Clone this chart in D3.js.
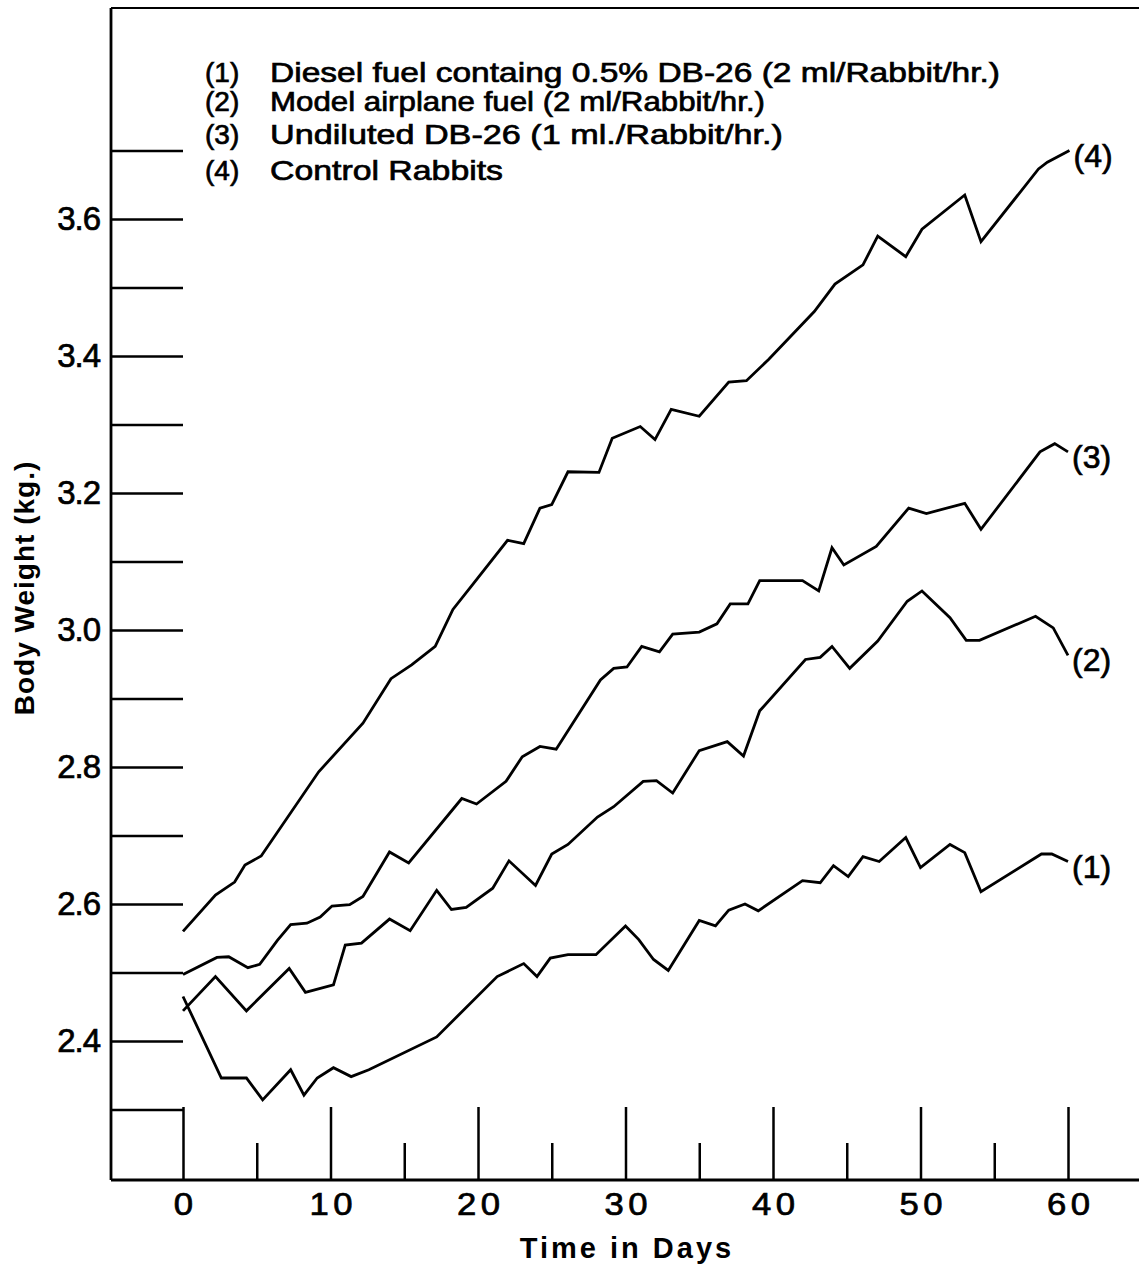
<!DOCTYPE html>
<html>
<head>
<meta charset="utf-8">
<script src="https://cdn.jsdelivr.net/npm/d3@7"></script>
<style>
  html, body { margin: 0; padding: 0; background: #fff; }
  svg { display: block; }
  text { font-family: "Liberation Sans", Arial, sans-serif; fill: #000; }
</style>
</head>
<body>
<svg id="chart" width="1139" height="1264"></svg>
<script>
// ---- Data ----
const days1 = [0, 2.6, 4.3, 5.4, 7.3, 8.2, 9.1, 10.2, 11.4, 12.6, 17.2, 21.3, 23.1, 24.0, 24.9, 26.1, 28.0, 30.0, 30.9, 31.9, 32.9, 35.0, 36.1, 37.0, 38.1, 39.0, 42.0, 43.2, 44.1, 45.1, 46.1, 47.2, 49.0, 50.0, 52.0, 53.0, 54.1, 58.2, 58.9, 60.0];
const weight1 = [2.465, 2.346, 2.346, 2.314, 2.358, 2.321, 2.346, 2.361, 2.348, 2.358, 2.406, 2.494, 2.513, 2.494, 2.521, 2.526, 2.526, 2.568, 2.548, 2.519, 2.503, 2.576, 2.568, 2.591, 2.600, 2.590, 2.634, 2.631, 2.656, 2.640, 2.669, 2.662, 2.697, 2.653, 2.687, 2.675, 2.618, 2.673, 2.673, 2.662];

const days2 = [0, 2.2, 4.3, 7.2, 8.3, 10.2, 11.0, 12.1, 14.0, 15.4, 17.2, 18.2, 19.2, 21.0, 22.1, 23.9, 25.0, 26.1, 28.1, 29.2, 31.2, 32.1, 33.2, 35.0, 36.9, 38.0, 39.1, 42.2, 43.2, 44.0, 45.2, 47.1, 49.1, 50.1, 52.0, 53.1, 54.0, 57.8, 59.0, 60.0];
const weight2 = [2.444, 2.494, 2.444, 2.506, 2.471, 2.482, 2.540, 2.543, 2.578, 2.561, 2.620, 2.592, 2.595, 2.623, 2.663, 2.627, 2.673, 2.687, 2.727, 2.742, 2.779, 2.780, 2.762, 2.824, 2.837, 2.816, 2.882, 2.957, 2.960, 2.976, 2.944, 2.984, 3.042, 3.057, 3.018, 2.985, 2.985, 3.020, 3.003, 2.963];

const days3 = [0, 2.3, 3.1, 4.4, 5.2, 6.4, 7.3, 8.4, 9.3, 10.1, 11.3, 12.2, 14.0, 15.3, 18.9, 19.9, 21.9, 23.0, 24.2, 25.3, 28.3, 29.2, 30.1, 31.1, 32.3, 33.2, 35.0, 36.2, 37.1, 38.3, 39.1, 42.0, 43.1, 44.0, 44.8, 47.0, 49.2, 50.4, 53.0, 54.1, 58.1, 59.1, 60.0];
const weight3 = [2.497, 2.522, 2.523, 2.507, 2.512, 2.547, 2.570, 2.572, 2.581, 2.597, 2.599, 2.611, 2.676, 2.660, 2.754, 2.746, 2.779, 2.815, 2.830, 2.826, 2.927, 2.944, 2.946, 2.976, 2.968, 2.994, 2.997, 3.009, 3.038, 3.038, 3.072, 3.072, 3.057, 3.120, 3.095, 3.122, 3.178, 3.170, 3.185, 3.147, 3.260, 3.272, 3.260];

const days4 = [0, 2.2, 3.5, 4.2, 5.3, 9.2, 12.2, 14.1, 15.5, 17.1, 18.3, 19.7, 22.0, 23.1, 24.2, 25.0, 26.1, 28.2, 29.1, 31.0, 32.0, 33.1, 35.0, 37.0, 38.2, 39.7, 42.8, 44.2, 46.1, 47.1, 49.0, 50.1, 53.0, 54.1, 58.0, 58.6, 60.1];
const weight4 = [2.560, 2.613, 2.632, 2.657, 2.670, 2.793, 2.864, 2.929, 2.949, 2.976, 3.030, 3.068, 3.131, 3.126, 3.178, 3.183, 3.231, 3.230, 3.280, 3.297, 3.278, 3.322, 3.312, 3.362, 3.364, 3.395, 3.465, 3.505, 3.533, 3.575, 3.545, 3.585, 3.635, 3.567, 3.673, 3.683, 3.700];

const seriesTags = ["(1)", "(2)", "(3)", "(4)"];
const legendTexts = [
  "Diesel fuel containg 0.5%  DB-26 (2 ml/Rabbit/hr.)",
  "Model airplane fuel (2 ml/Rabbit/hr.)",
  "Undiluted  DB-26 (1 ml./Rabbit/hr.)",
  "Control  Rabbits"
];

const yMajorTicks = [2.4, 2.6, 2.8, 3.0, 3.2, 3.4, 3.6];
const yMinorTicks = [2.3, 2.5, 2.7, 2.9, 3.1, 3.3, 3.5, 3.7];
const xMajorTicks = [0, 10, 20, 30, 40, 50, 60];
const xMinorTicks = [5, 15, 25, 35, 45, 55];

const xTitle = "Time in Days";
const yTitle = "Body Weight (kg.)";

// ---- Layout ----
const svg = d3.select("#chart");
const frameLeft = 111, frameRight = 1139, frameTop = 8, frameBottom = 1180;

const x = d3.scaleLinear().domain([0, 60]).range([183, 1068]);
const y = d3.scaleLinear().domain([2.4, 3.6]).range([1041, 219]);

svg.append("rect").attr("width", 1139).attr("height", 1264).attr("fill", "#fff");

// frame lines (left axis, top, bottom)
const frame = svg.append("g").attr("stroke", "#000").attr("stroke-width", 2.8).attr("fill", "none");
frame.append("line").attr("x1", frameLeft).attr("x2", frameLeft).attr("y1", frameTop).attr("y2", frameBottom);
frame.append("line").attr("x1", frameLeft).attr("x2", frameRight).attr("y1", frameTop).attr("y2", frameTop).attr("stroke-width", 2.2);
frame.append("line").attr("x1", frameLeft).attr("x2", frameRight).attr("y1", frameBottom).attr("y2", frameBottom);

function penText(sel) {
  return sel.attr("stroke", "#000").attr("stroke-width", 0.7).attr("fill", "#000");
}

// Y axis (ticks pointing inward)
const yAxisMajor = d3.axisLeft(y).tickValues(yMajorTicks).tickSizeInner(-72).tickSizeOuter(0)
  .tickPadding(11).tickFormat(d3.format(".1f"));
const yAxisMinor = d3.axisLeft(y).tickValues(yMinorTicks).tickSizeInner(-72).tickSizeOuter(0)
  .tickFormat("");
function styleAxis(g) {
  g.select(".domain").remove();
  g.selectAll(".tick line").attr("stroke", "#000").attr("stroke-width", 2.5);
  g.selectAll(".tick text").attr("font-size", 33).attr("letter-spacing", -1)
    .attr("font-family", "'Liberation Sans', Arial, sans-serif").call(penText);
}
svg.append("g").attr("transform", `translate(${frameLeft},0)`).call(yAxisMajor).call(styleAxis);
svg.append("g").attr("transform", `translate(${frameLeft},0)`).call(yAxisMinor).call(styleAxis);

// X axis (ticks pointing up)
const xAxisMajor = d3.axisBottom(x).tickValues(xMajorTicks).tickSizeInner(-73).tickSizeOuter(0)
  .tickPadding(13).tickFormat(d3.format("d"));
const xAxisMinor = d3.axisBottom(x).tickValues(xMinorTicks).tickSizeInner(-37).tickSizeOuter(0)
  .tickFormat("");
svg.append("g").attr("transform", `translate(0,${frameBottom})`).call(xAxisMajor).call(styleAxis)
  .selectAll(".tick text").attr("dy", "0.71em").attr("font-size", 31).attr("letter-spacing", 4)
  .attr("dx", 2).attr("transform", "scale(1.12,1)");
svg.append("g").attr("transform", `translate(0,${frameBottom})`).call(xAxisMinor).call(styleAxis);

// Axis titles
svg.append("text").attr("x", 627).attr("y", 1258).attr("text-anchor", "middle")
  .attr("font-size", 29).attr("font-weight", "bold").attr("letter-spacing", 3).text(xTitle);
svg.append("text").attr("transform", "translate(34,588) rotate(-90)").attr("text-anchor", "middle")
  .attr("font-size", 28).attr("font-weight", "bold").attr("letter-spacing", 1).text(yTitle);

// Lines
const seriesDays = [days1, days2, days3, days4];
const seriesWeights = [weight1, weight2, weight3, weight4];
const line = d3.line().x(d => x(d[0])).y(d => y(d[1]));
seriesDays.forEach((ds, i) => {
  const pts = ds.map((d, j) => [d, seriesWeights[i][j]]);
  svg.append("path").datum(pts).attr("d", line)
    .attr("fill", "none").attr("stroke", "#000").attr("stroke-width", 2.8)
    .attr("stroke-linejoin", "miter");
  const last = pts[pts.length - 1];
  svg.append("text").attr("x", x(last[0]) + 4).attr("y", y(last[1]) + 5)
    .attr("dominant-baseline", "central").attr("font-size", 32).call(penText).text(seriesTags[i]);
});

// Legend
const legendY = [72, 101, 134, 170];
const legendWidths = [730, 495, 513, 233];
legendTexts.forEach((t, i) => {
  svg.append("text").attr("x", 205).attr("y", legendY[i]).attr("dominant-baseline", "central")
    .attr("font-size", 28).call(penText).text(seriesTags[i]);
  svg.append("text").attr("x", 270).attr("y", legendY[i]).attr("dominant-baseline", "central")
    .attr("font-size", 28).attr("textLength", legendWidths[i]).attr("lengthAdjust", "spacingAndGlyphs")
    .call(penText).text(t);
});
</script>
</body>
</html>
